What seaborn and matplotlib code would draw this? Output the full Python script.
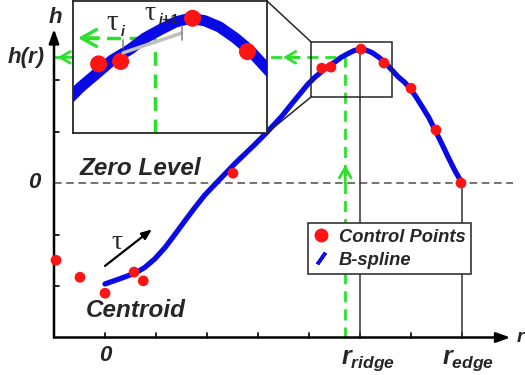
import numpy as np
import pandas as pd
import matplotlib
matplotlib.use('Agg')
import matplotlib.pyplot as plt
from matplotlib.lines import Line2D
from matplotlib.patches import Rectangle, ConnectionPatch
import seaborn as sns

# B-spline curve
curve_r = [0.00, 0.29, 0.59, 0.78, 0.98, 1.18, 1.37, 1.57, 1.76, 1.96, 2.25, 2.55,
           2.94, 3.18, 3.47, 3.73, 3.98, 4.10, 4.22, 4.36, 4.51, 4.63, 4.76, 4.88,
           5.00, 5.12, 5.24, 5.37, 5.49, 5.62, 5.75, 5.87, 5.98, 6.10, 6.22, 6.35,
           6.47, 6.60, 6.73, 6.86, 7.00]
curve_h = [-1.96, -1.86, -1.75, -1.64, -1.47, -1.25, -1.00, -0.73, -0.48, -0.23, 0.07, 0.38,
           0.75, 0.99, 1.30, 1.62, 1.92, 2.04, 2.14, 2.26, 2.35, 2.44, 2.51, 2.57,
           2.60, 2.58, 2.53, 2.44, 2.34, 2.20, 2.06, 1.96, 1.84, 1.67, 1.48, 1.27,
           1.03, 0.77, 0.50, 0.24, 0.00]

# control points
ctrl_r = [-0.96, -0.49, 0.00, 0.57, 0.75, 2.51, 4.25, 4.43, 5.02, 5.47, 6.00, 6.49, 6.98]
ctrl_h = [-1.50, -1.83, -2.14, -1.73, -1.90, 0.19, 2.23, 2.25, 2.60, 2.33, 1.84, 1.03, 0.00]

r_ticks = [0, 1, 2, 3, 4, 5, 6, 7]
h_ticks = [-2, -1, 1, 2]
r_ridge, r_edge = 5, 7
r_sel, h_sel = 4.71, 2.44          # the green look-up point
zoom_r = (4.04, 5.63)
zoom_h = (1.67, 2.74)

sns.set_theme(style='white')
plt.rcParams['font.family'] = ['Liberation Sans', 'DejaVu Sans']
plt.rcParams['mathtext.fontset'] = 'custom'
plt.rcParams['mathtext.it'] = 'Liberation Sans:italic:bold'
plt.rcParams['mathtext.rm'] = 'Liberation Serif'

blue = '#0a0ae6'
red = '#ff1414'
green = '#2ee02e'
bi = dict(fontweight='bold', fontstyle='italic')
TAU = r'$\mathrm{τ}$'

df_curve = pd.DataFrame({'r': curve_r, 'h': curve_h})
df_ctrl = pd.DataFrame({'r': ctrl_r, 'h': ctrl_h})

fig = plt.figure(figsize=(5.25, 3.75), dpi=100)
ax = fig.add_axes([0, 0, 1, 1])
ax.set_xlim(-105 / 51, 420 / 51)
ax.set_ylim(-192 / 51.5, 183 / 51.5)
ax.axis('off')

x0, y0 = -1, -3
# axes with arrows
ax.annotate('', xy=(x0, 2.99), xytext=(x0, y0),
            arrowprops=dict(arrowstyle='-|>,head_length=0.7,head_width=0.25', lw=1.8,
                            color='black', shrinkA=0, shrinkB=0))
ax.annotate('', xy=(7.95, y0), xytext=(x0, y0),
            arrowprops=dict(arrowstyle='-|>,head_length=0.7,head_width=0.25', lw=1.8,
                            color='black', shrinkA=0, shrinkB=0))
for t in r_ticks:
    ax.plot([t, t], [y0, y0 + 0.09], color='black', lw=1.2)
for t in h_ticks:
    ax.plot([x0, x0 + 0.09], [t, t], color='black', lw=1.2)

# zero level and guide lines
ax.plot([x0, 8.0], [0, 0], color='0.3', lw=1.1, ls=(0, (5, 3)))
ax.plot([r_ridge, r_ridge], [y0, max(curve_h)], color='0.2', lw=1.1)
ax.plot([r_edge, r_edge], [y0, 0], color='0.2', lw=1.1)

# green look-up lines
ax.plot([r_sel, r_sel], [y0, h_sel], color=green, lw=2, ls=(0, (4, 2.5)), zorder=2)
ax.plot([x0, r_sel], [h_sel, h_sel], color=green, lw=2, ls=(0, (4, 2.5)), zorder=2)
ah = dict(arrowstyle='->,head_length=0.6,head_width=0.35', color=green, lw=2,
          shrinkA=0, shrinkB=0)
ax.annotate('', xy=(r_sel, 0.35), xytext=(r_sel, 0.0), arrowprops=ah)
ax.annotate('', xy=(3.49, h_sel), xytext=(3.8, h_sel), arrowprops=ah)
ax.annotate('', xy=(-0.93, h_sel), xytext=(-0.6, h_sel), arrowprops=ah)

sns.lineplot(data=df_curve, x='r', y='h', ax=ax, color=blue, lw=3.8, sort=False,
             zorder=3, legend=False)
sns.scatterplot(data=df_ctrl, x='r', y='h', ax=ax, color=red, s=60,
                edgecolor='none', zorder=4, legend=False)

# zoom box
ax.add_patch(Rectangle((zoom_r[0], zoom_h[0]), zoom_r[1] - zoom_r[0], zoom_h[1] - zoom_h[0],
                       fill=False, ec='0.15', lw=1.1, zorder=5))

# labels
ax.text(-1.27, 0, '0', ha='right', va='center', fontsize=16, **bi)
ax.text(-1.18, h_sel, 'h(r)', ha='right', va='center', fontsize=16, **bi)
ax.text(-0.98, 3.22, 'h', ha='center', va='center', fontsize=16, **bi)
ax.text(8.14, -3.0, 'r', ha='center', va='center', fontsize=14, **bi)
ax.text(0, -3.34, '0', ha='center', va='center', fontsize=16, **bi)
ax.text(5.15, -3.45, '$r_{ridge}$', ha='center', va='center', fontsize=18)
ax.text(7.12, -3.45, '$r_{edge}$', ha='center', va='center', fontsize=18)
ax.text(0.69, 0.29, 'Zero Level', ha='center', va='center', fontsize=17.5, **bi)
ax.text(0.61, -2.47, 'Centroid', ha='center', va='center', fontsize=17.5, **bi)
ax.text(0.24, -1.15, TAU, ha='center', va='center', fontsize=20)
ax.annotate('', xy=(0.92, -0.90), xytext=(0.0, -1.61),
            arrowprops=dict(arrowstyle='-|>,head_length=0.5,head_width=0.2', lw=1.6,
                            color='black', shrinkA=0, shrinkB=0))

handles = [Line2D([], [], marker='o', color=red, ls='none', ms=9, label='Control Points'),
           Line2D([], [], marker=(2, 2, -35), color=blue, ls='none', ms=10, mew=2.5,
                  label='B-spline')]
leg = ax.legend(handles=handles, loc='upper left', bbox_to_anchor=(308 / 525, 1 - 223 / 375),
                frameon=True, fancybox=False, edgecolor='0.2', framealpha=1,
                prop=dict(family='Liberation Sans', weight='bold', style='italic', size=13.2),
                borderaxespad=0, borderpad=0.3, handlelength=0.8, handletextpad=0.6,
                labelspacing=0.35)
leg.get_frame().set_linewidth(1.2)
leg.set_zorder(6)

# inset
axins = fig.add_axes([73 / 525, (375 - 133) / 375, 194 / 525, 132 / 375])
axins.set_xlim(*zoom_r)
axins.set_ylim(*zoom_h)
axins.set_xticks([])
axins.set_yticks([])
axins.set_facecolor('white')
for s in axins.spines.values():
    s.set_visible(True)
    s.set_color('0.15')
    s.set_linewidth(1.3)
sns.lineplot(data=df_curve, x='r', y='h', ax=axins, color=blue, lw=8, sort=False,
             zorder=3, legend=False)
sns.scatterplot(data=df_ctrl, x='r', y='h', ax=axins, color=red, s=150,
                edgecolor='none', zorder=4, legend=False)
axins.set_xlabel('')
axins.set_ylabel('')
axins.plot([r_sel, r_sel], [zoom_h[0], h_sel], color=green, lw=2.5, ls=(0, (4, 2.5)), zorder=2)
axins.plot([4.13, r_sel], [h_sel, h_sel], color=green, lw=2.5, ls=(0, (4, 2.5)), zorder=2)
axins.annotate('', xy=(4.08, h_sel), xytext=(4.25, h_sel),
               arrowprops=dict(arrowstyle='->,head_length=0.9,head_width=0.5', color=green,
                               lw=2.5, shrinkA=0, shrinkB=0))
# tau segment
axins.plot([4.45, 4.93], [2.32, 2.48], color='0.75', lw=2.5, zorder=5)
axins.plot([4.45, 4.45], [2.36, 2.42], color='0.55', lw=1.2, zorder=5)
axins.plot([4.93, 4.93], [2.42, 2.54], color='0.55', lw=1.2, zorder=5)
axins.text(4.36, 2.57, TAU, ha='center', va='center', fontsize=21, zorder=6)
axins.text(4.45, 2.49, 'i', ha='center', va='center', fontsize=10, zorder=6, **bi)
axins.text(4.67, 2.64, TAU, ha='center', va='center', fontsize=20, zorder=6)
axins.text(4.82, 2.59, 'i+1', ha='center', va='center', fontsize=10, zorder=6, **bi)

for a_xy, b_xy in [((1, 1), (zoom_r[0], zoom_h[1])), ((1, 0), (zoom_r[0], zoom_h[0]))]:
    con = ConnectionPatch(xyA=a_xy, coordsA=axins.transAxes, xyB=b_xy, coordsB=ax.transData,
                          color='0.15', lw=1.1)
    fig.add_artist(con)

fig.savefig('out.png', dpi=100)
